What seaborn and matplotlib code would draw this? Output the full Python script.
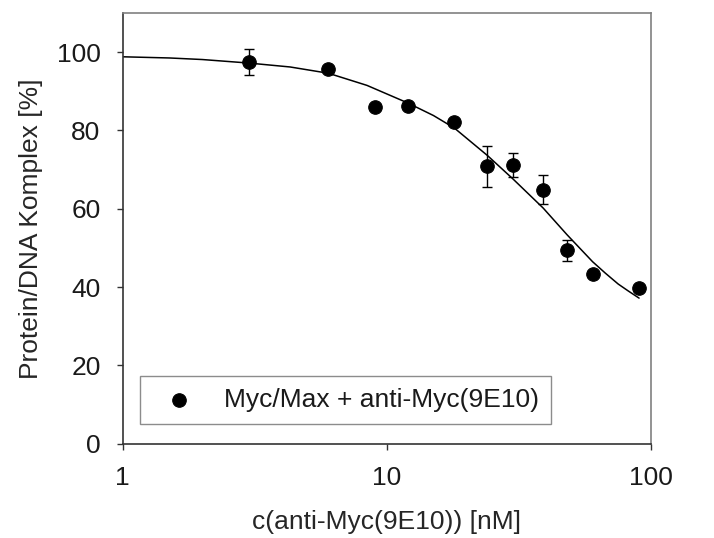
import matplotlib
matplotlib.use('Agg')
import matplotlib.pyplot as plt
import seaborn as sns
from matplotlib.ticker import FixedLocator, FixedFormatter, NullLocator

# measured points: antibody concentration (nM) vs remaining complex (%)
conc = [3, 6, 9, 12, 18, 24, 30, 39, 48, 60, 90]
complex_pct = [97.4, 95.7, 85.9, 86.3, 82.2, 70.8, 71.2, 64.9, 49.4, 43.3, 39.9]
complex_err = [3.3, 0, 0, 0, 0, 5.3, 3.1, 3.6, 2.7, 0, 0]

# fitted curve
fit_conc = [1, 1.5, 2, 3, 4.3, 6, 8.4, 12, 15, 18, 24, 30, 39, 48, 60, 67, 75, 82, 90]
fit_pct = [98.8, 98.5, 98.1, 97.2, 96.2, 94.6, 91.5, 87.0, 83.8, 80.6, 73.6, 67.6,
           60.2, 53.4, 46.5, 43.6, 40.8, 39.0, 37.2]

series_label = 'Myc/Max + anti-Myc(9E10)'
x_ticks = [1, 10, 100]
y_ticks = [0, 20, 40, 60, 80, 100]

sns.set_theme(style='white')
plt.rcParams['font.family'] = ['Liberation Sans', 'DejaVu Sans']
plt.rcParams['text.color'] = '#1a1a1a'

fig = plt.figure(figsize=(7.14, 5.38), dpi=100)
ax = fig.add_axes([0.172, 0.175, 0.74, 0.801])

sns.lineplot(x=fit_conc, y=fit_pct, color='black', linewidth=1.1,
             estimator=None, sort=False, ax=ax, legend=False)
ax.errorbar(conc, complex_pct, yerr=complex_err, fmt='none', ecolor='black',
            elinewidth=1, capsize=3.6, capthick=1, zorder=2)
sns.scatterplot(x=conc, y=complex_pct, color='black', edgecolor='black',
                s=95, label=series_label, ax=ax, zorder=3)

ax.set_xscale('log')
ax.set_xlim(1, 100)
ax.set_ylim(0, 110)
ax.xaxis.set_major_locator(FixedLocator(x_ticks))
ax.xaxis.set_major_formatter(FixedFormatter([str(t) for t in x_ticks]))
ax.xaxis.set_minor_locator(NullLocator())
ax.set_yticks(y_ticks)

ax.tick_params(axis='both', direction='out', length=4, width=1,
               color='#333333', labelsize=19, labelcolor='#1a1a1a', pad=12)
ax.tick_params(bottom=True, left=True)

for side in ['left', 'bottom']:
    ax.spines[side].set_color('#333333')
    ax.spines[side].set_linewidth(1.2)
for side in ['top', 'right']:
    ax.spines[side].set_color('#808080')
    ax.spines[side].set_linewidth(1.2)

ax.set_xlabel('c(anti-Myc(9E10)) [nM]', fontsize=19, labelpad=14)
ax.set_ylabel('Protein/DNA Komplex [%]', fontsize=19, labelpad=10)

ax.legend(loc='lower left', bbox_to_anchor=(0.032, 0.046), borderaxespad=0,
          frameon=True, fancybox=False, edgecolor='#8c8c8c', framealpha=1,
          fontsize=19, handlelength=2.1, handletextpad=0.65, borderpad=0.45)
ax.get_legend().get_frame().set_linewidth(1)

fig.savefig('out.png', dpi=100)
